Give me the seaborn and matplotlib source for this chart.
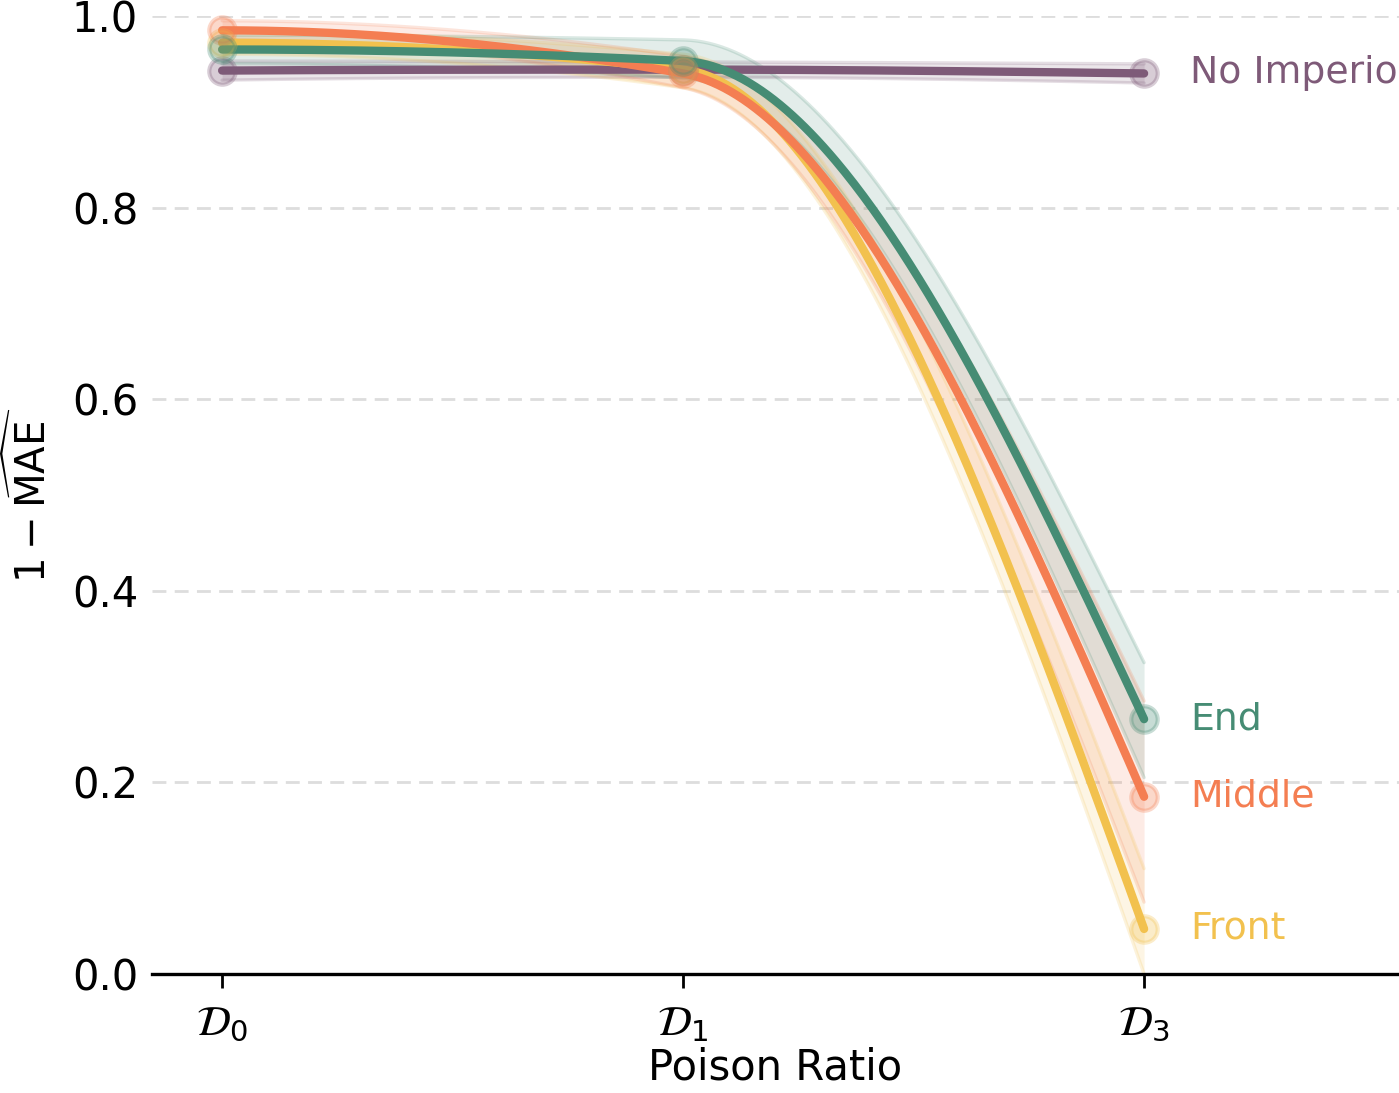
import numpy as np
import pandas as pd
import matplotlib
matplotlib.use("Agg")
import matplotlib.pyplot as plt
import seaborn as sns

# x positions of the three poison ratios
tick_labels = [r"$\mathcal{D}_0$", r"$\mathcal{D}_1$", r"$\mathcal{D}_3$"]
x_pos = [0, 1, 2]

series_names = ["No Imperio", "Front", "Middle", "End"]
colors = ["#7e5a78", "#f2c14e", "#f47e52", "#468c74"]

# mean score (1 - MAE) per poison ratio
no_imperio = [0.943, 0.944, 0.940]
front = [0.972, 0.944, 0.047]
middle = [0.985, 0.940, 0.185]
end = [0.965, 0.953, 0.266]

# spread across runs (lower / upper)
no_imperio_lo = [0.933, 0.936, 0.930]
no_imperio_hi = [0.953, 0.952, 0.950]
front_lo = [0.960, 0.925, 0.000]
front_hi = [0.984, 0.960, 0.110]
middle_lo = [0.975, 0.925, 0.075]
middle_hi = [0.995, 0.958, 0.285]
end_lo = [0.950, 0.935, 0.205]
end_hi = [0.980, 0.975, 0.325]

means = [no_imperio, front, middle, end]
lows = [no_imperio_lo, front_lo, middle_lo, end_lo]
highs = [no_imperio_hi, front_hi, middle_hi, end_hi]


def pchip(x, y, xs):
    # monotone cubic (Fritsch-Carlson) used only to draw the smooth curve
    x = np.asarray(x, float)
    y = np.asarray(y, float)
    h = np.diff(x)
    delta = np.diff(y) / h
    n = len(x)
    d = np.zeros(n)
    for k in range(1, n - 1):
        if delta[k - 1] * delta[k] > 0:
            w1 = 2 * h[k] + h[k - 1]
            w2 = h[k] + 2 * h[k - 1]
            d[k] = (w1 + w2) / (w1 / delta[k - 1] + w2 / delta[k])

    def end_slope(h0, h1, d0, d1):
        s = ((2 * h0 + h1) * d0 - h0 * d1) / (h0 + h1)
        if np.sign(s) != np.sign(d0):
            s = 0.0
        elif np.sign(d0) != np.sign(d1) and abs(s) > abs(3 * d0):
            s = 3 * d0
        return s

    d[0] = end_slope(h[0], h[1], delta[0], delta[1])
    d[-1] = end_slope(h[-1], h[-2], delta[-1], delta[-2])
    idx = np.clip(np.searchsorted(x, xs) - 1, 0, n - 2)
    t = (xs - x[idx]) / h[idx]
    h00 = 2 * t**3 - 3 * t**2 + 1
    h10 = t**3 - 2 * t**2 + t
    h01 = -2 * t**3 + 3 * t**2
    h11 = t**3 - t**2
    return (h00 * y[idx] + h10 * h[idx] * d[idx]
            + h01 * y[idx + 1] + h11 * h[idx] * d[idx + 1])


sns.set_style("white")
plt.rcParams["font.family"] = ["DejaVu Sans"]
plt.rcParams["font.size"] = 15
plt.rcParams["text.color"] = "black"
plt.rcParams["axes.labelcolor"] = "black"
plt.rcParams["xtick.color"] = "black"
plt.rcParams["ytick.color"] = "black"

fig = plt.figure(figsize=(6.995, 5.465), dpi=200)
ax = fig.add_axes([0.1087, 0.1089, 0.8913, 0.8765])

xs = np.linspace(0, 2, 300)
for name, col, m, lo, hi in zip(series_names, colors, means, lows, highs):
    ys = pchip(x_pos, m, xs)
    ylo = pchip(x_pos, lo, xs)
    yhi = pchip(x_pos, hi, xs)
    ax.fill_between(xs, ylo, yhi, color=col, alpha=0.15, lw=0)
    ax.plot(xs, ylo, color=col, alpha=0.2, lw=1.2)
    ax.plot(xs, yhi, color=col, alpha=0.2, lw=1.2)
    df = pd.DataFrame({"x": xs, "y": ys})
    sns.lineplot(data=df, x="x", y="y", color=col, lw=3, ax=ax, zorder=3)
    ax.plot(x_pos, m, ls="none", marker="o", ms=9.5, mfc=col, mec=col,
            mew=1.5, alpha=0.3, zorder=4, clip_on=False)
    ax.text(2.1, m[-1], name, color=col, fontsize=13.6, va="center", ha="left")

ax.set_xlim(-0.152, 2.553)
ax.set_ylim(0, 1.0)
ax.set_xticks(x_pos)
ax.set_xticklabels(tick_labels)
ax.set_yticks([0.0, 0.2, 0.4, 0.6, 0.8, 1.0])
ax.set_yticklabels(["0.0", "0.2", "0.4", "0.6", "0.8", "1.0"])
ax.set_xlabel("Poison Ratio", fontsize=15, labelpad=1)
ax.set_ylabel(r"$1-\widehat{\mathrm{MAE}}$", fontsize=14.5, labelpad=6)

for y in [0.2, 0.4, 0.6, 0.8, 1.0]:
    ax.axhline(y, color="#dddddd", lw=1, ls=(0, (5, 3)), zorder=0)

sns.despine(ax=ax, left=True, right=True, top=True)
ax.spines["bottom"].set_linewidth(1.2)
ax.spines["bottom"].set_color("black")
ax.tick_params(axis="x", length=5, width=1, pad=5, direction="out", bottom=True)
ax.tick_params(axis="y", length=0, pad=5)

fig.savefig("out.png", dpi=200)
